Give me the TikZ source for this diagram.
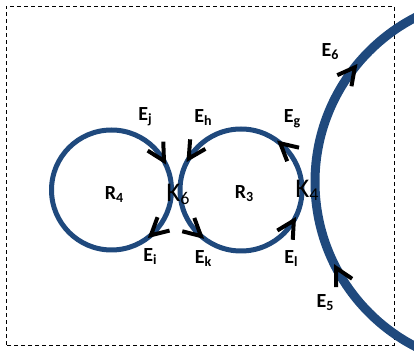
\documentclass[tikz,border=0pt]{standalone}
\usepackage{fontspec}
\setmainfont{Carlito}
\definecolor{ringblue}{RGB}{31,73,125}
\newcommand{\lsub}[2][14]{\raisebox{-3pt}{\fontsize{#1}{#1}\selectfont #2}}

\begin{document}
\begin{tikzpicture}[x=1pt, y=1pt,
    chevron/.style={draw=black, line width=4pt, line join=miter},
    ring/.style={draw=ringblue, line width=5pt},
    bigring/.style={draw=ringblue, line width=9pt},
    elabel/.style={font=\fontsize{20}{20}\selectfont\bfseries, inner sep=0pt},
    klabel/.style={font=\fontsize{27}{27}\selectfont, inner sep=0pt},
    frame/.style={draw=black, line width=0.8pt, dash pattern=on 4pt off 3pt}
]
\clip (0,0) rectangle (414,350);
\coordinate (r4) at (111.5,160);
\coordinate (r3) at (241,160);
\coordinate (big) at (500,168);

\draw[frame] (6,5) rectangle (394,344);

% rings
\draw[bigring] (big) circle[radius=185];
\draw[ring] (r4) circle[radius=60];
\draw[ring] (r3) circle[radius=61];

% direction marks: clockwise on R4 and the outer ring, counter-clockwise on R3
\foreach \a in {30,-48}
  \draw[chevron, shift={(r4)}, rotate=\a] (51,16) -- (60,-1) -- (69,16);
\foreach \a in {49,148,228,329}
  \draw[chevron, shift={(r3)}, rotate=\a] (52,-16) -- (61,1) -- (70,-16);
\foreach \a in {142,208}
  \draw[chevron, shift={(big)}, rotate=\a] (176,16) -- (185,-1) -- (194,16);

\node[elabel] (e6) at (330,298) {E\lsub{6}};
\node[elabel] (ej) at (145,233) {E\lsub{j}};
\node[elabel] (eh) at (203,232) {E\lsub{h}};
\node[elabel] (eg) at (292,231) {E\lsub{g}};
\node[elabel] (reg4) at (114,155) {R\lsub{4}};
\node[elabel] (reg3) at (244,156) {R\lsub{3}};
\node[klabel] (k6) at (178,156) {K\lsub[18]{6}};
\node[klabel] (k4) at (307,160) {K\lsub[18]{4}};
\node[elabel] (ei) at (150,93) {E\lsub{i}};
\node[elabel] (ek) at (203,91) {E\lsub{k}};
\node[elabel] (el) at (291,91) {E\lsub{l}};
\node[elabel] (e5) at (325,47) {E\lsub{5}};
\end{tikzpicture}
\end{document}
